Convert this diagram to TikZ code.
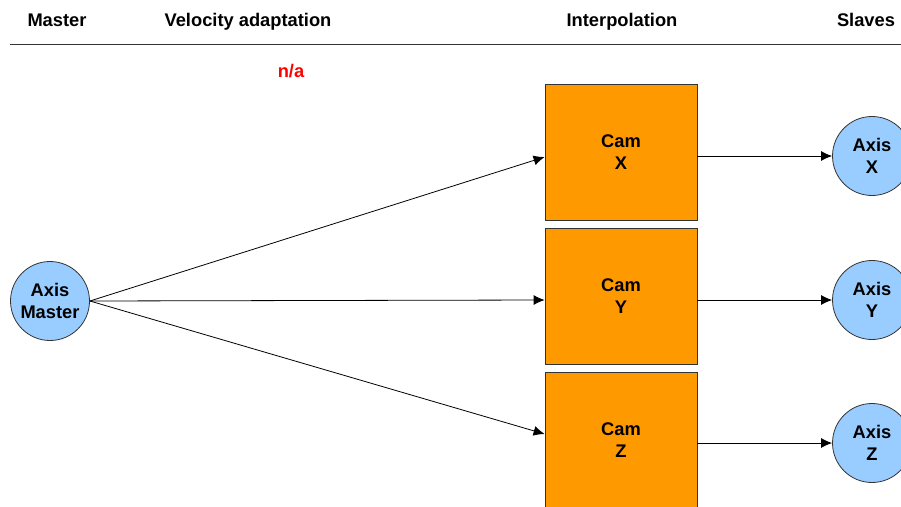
\documentclass[tikz,border=0pt]{standalone}
\usepackage{fontspec}
\setmainfont{Liberation Sans}
\usetikzlibrary{arrows.meta}
\definecolor{camfill}{HTML}{FF9900}
\definecolor{axisfill}{HTML}{99CCFF}
\definecolor{edgegray}{HTML}{333333}
\begin{document}
\begin{tikzpicture}[x=1pt,y=-1pt,
  every node/.style={font=\fontsize{18.3}{22}\selectfont\bfseries, align=center, inner sep=0pt},
  axisnode/.style={circle, draw=edgegray, fill=axisfill, minimum size=79pt, line width=0.8pt},
  cambox/.style={rectangle, draw=edgegray, fill=camfill, minimum width=152pt, minimum height=136pt, line width=0.8pt},
  header/.style={anchor=base},
  flow/.style={-{Latex[length=11pt,width=10pt]}, line width=0.8pt, draw=black}]
  \useasboundingbox (0,0) rectangle (901,506);
  \clip (0,0) rectangle (901,506);

  % column headings
  \node[header] (hmaster) at (57,27) {Master};
  \node[header] (hvel) at (248,27) {Velocity adaptation};
  \node[header] (hinterp) at (622,27) {Interpolation};
  \node[header] (hslaves) at (866,27) {Slaves};
  \coordinate (ruleL) at (10,44);
  \coordinate (ruleR) at (901,44);
  \draw[line width=1pt, draw=edgegray] (ruleL) -- (ruleR);
  \node[header, text=red] (na) at (291,77) {n/a};

  % master axis
  \node[axisnode] (master) at (50,301) {Axis\\Master};

  % cam interpolation blocks
  \node[cambox] (camX) at (621,152) {Cam\\X};
  \node[cambox] (camY) at (621,296) {Cam\\Y};
  \node[cambox] (camZ) at (621,440) {Cam\\Z};

  % slave axes
  \node[axisnode] (axX) at (872,156) {Axis\\X};
  \node[axisnode] (axY) at (872,300) {Axis\\Y};
  \node[axisnode] (axZ) at (872,443) {Axis\\Z};

  % master to cams
  \draw[flow] (master.east) -- ([yshift=-5pt]camX.west);
  \draw[flow] (master.east) -- ([yshift=-4pt]camY.west);
  \draw[flow] (master.east) -- ([yshift=6pt]camZ.west);

  % cams to slaves
  \draw[flow] (camX.east |- axX.west) -- (axX.west);
  \draw[flow] (camY.east |- axY.west) -- (axY.west);
  \draw[flow] (camZ.east |- axZ.west) -- (axZ.west);
\end{tikzpicture}
\end{document}
